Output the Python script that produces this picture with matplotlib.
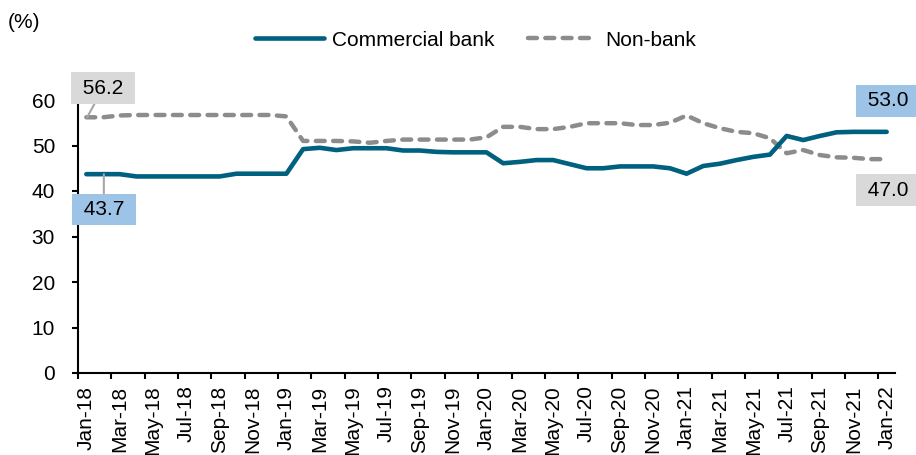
import matplotlib
matplotlib.use("Agg")
import matplotlib.pyplot as plt
import numpy as np

plt.rcParams['font.family'] = ['Liberation Sans', 'DejaVu Sans']

months = ["Jan", "Feb", "Mar", "Apr", "May", "Jun", "Jul", "Aug", "Sep", "Oct", "Nov", "Dec"]
categories = [f"{months[i % 12]}-{18 + i // 12}" for i in range(49)]

commercial_bank = [43.7, 43.7, 43.7, 43.2, 43.2, 43.2, 43.2, 43.2, 43.2, 43.8, 43.8, 43.8, 43.8,
                   49.2, 49.5, 49.0, 49.4, 49.4, 49.4, 48.9, 48.9, 48.6, 48.5, 48.5, 48.5,
                   46.1, 46.4, 46.8, 46.8, 45.9, 45.0, 45.0, 45.4, 45.4, 45.4, 45.0, 43.8,
                   45.5, 46.0, 46.8, 47.5, 48.0, 52.1, 51.2, 52.1, 52.9, 53.0, 53.0, 53.0]
non_bank = [56.2, 56.2, 56.6, 56.7, 56.7, 56.7, 56.7, 56.7, 56.7, 56.7, 56.7, 56.7, 56.4,
            51.0, 51.0, 51.0, 50.9, 50.6, 51.0, 51.3, 51.3, 51.3, 51.3, 51.3, 51.8,
            54.1, 54.1, 53.6, 53.6, 54.1, 54.9, 54.9, 54.9, 54.5, 54.5, 55.0, 56.6,
            54.9, 53.8, 53.0, 52.7, 51.6, 48.3, 49.0, 47.9, 47.4, 47.3, 47.0, 47.0]
y_ticks = [0, 10, 20, 30, 40, 50, 60]

FS = 15
fig = plt.figure(figsize=(9.16, 4.55), dpi=100)
ax = fig.add_axes([78 / 916, 1 - 373 / 455, (895 - 78) / 916, (373 - 100) / 455])

x = np.arange(len(categories))
ax.plot(x, commercial_bank, color='#00607f', lw=3.3, solid_capstyle='round',
        solid_joinstyle='round', label='Commercial bank', zorder=3)
ax.plot(x, non_bank, color='#8c8c8c', lw=3.2, dashes=(2.0, 1.9), dash_capstyle='round',
        label='Non-bank', zorder=2)

ax.set_xlim(-0.5, len(categories) - 0.5)
ax.set_ylim(0, 60)

for s in ['top', 'right']:
    ax.spines[s].set_visible(False)
for s in ['left', 'bottom']:
    ax.spines[s].set_linewidth(1.5)
    ax.spines[s].set_color('black')

ax.set_yticks(y_ticks)
ax.set_yticklabels([str(v) for v in y_ticks], fontsize=FS)
ax.tick_params(axis='y', direction='out', length=4.5, width=1.5, pad=12)

ax.set_xticks(x[::2])
ax.set_xticklabels(categories[::2], rotation=90, fontsize=FS)
ax.set_xticks(np.arange(-0.5, len(categories) - 1, 2), minor=True)
ax.tick_params(axis='x', which='major', length=0, pad=9)
ax.tick_params(axis='x', which='minor', direction='out', length=4, width=1.5)

fig.text(8 / 916, 1 - 23 / 455, "(%)", fontsize=FS, va='center', ha='left')

leg = fig.legend(loc='center', bbox_to_anchor=(0.519, 1 - 40 / 455), ncol=2, frameon=False,
                 fontsize=FS, handlelength=3.3, handletextpad=0.4, columnspacing=1.6)

grey_box = dict(boxstyle='square,pad=0.3', fc='#d9d9d9', ec='none')
blue_box = dict(boxstyle='square,pad=0.3', fc='#9dc3e6', ec='none')
lead = dict(arrowstyle='-', color='#a6a6a6', lw=1.5, shrinkA=0, shrinkB=0)

ax.annotate(f" {non_bank[0]:.1f} ", xy=(0.05, non_bank[0]), xytext=(1.0, 62.6),
            fontsize=FS, ha='center', va='center', bbox=grey_box, arrowprops=lead,
            annotation_clip=False, zorder=5)
ax.annotate(f" {commercial_bank[0]:.1f} ", xy=(1.05, commercial_bank[0]), xytext=(1.05, 35.9),
            fontsize=FS, ha='center', va='center', bbox=blue_box, arrowprops=lead,
            annotation_clip=False, zorder=5)
ax.annotate(f" {commercial_bank[-1]:.1f} ", xy=(48.1, 59.8), fontsize=FS, ha='center',
            va='center', bbox=blue_box, annotation_clip=False, zorder=5)
ax.annotate(f" {non_bank[-1]:.1f} ", xy=(48.1, 40.2), fontsize=FS, ha='center',
            va='center', bbox=grey_box, annotation_clip=False, zorder=5)

fig.savefig("out.png", dpi=100)
